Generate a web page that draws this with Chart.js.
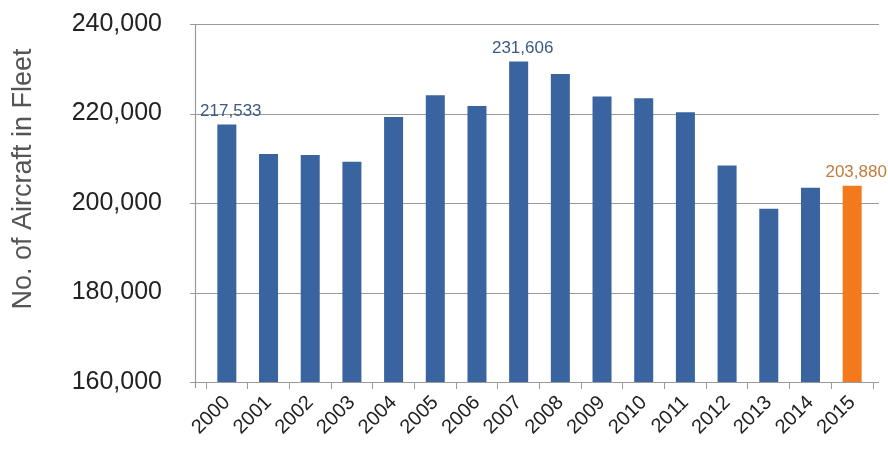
<!DOCTYPE html>
<html>
<head>
<meta charset="utf-8">
<script src="https://cdn.jsdelivr.net/npm/chart.js@4"></script>
<style>
  html, body { margin: 0; padding: 0; background: #ffffff; }
  #wrap { width: 888px; height: 458px; position: relative; }
</style>
</head>
<body>
<div id="wrap"><canvas id="c" width="888" height="458"></canvas></div>
<script>
// ---- data ----
const years = ["2000","2001","2002","2003","2004","2005","2006","2007","2008","2009","2010","2011","2012","2013","2014","2015"];
const fleet = [217533, 210950, 210700, 209200, 219200, 224100, 221700, 231606, 228800, 223800, 223400, 220300, 208400, 198700, 203400, 203880];
const highlightIndex = 15;               // year shown in orange
const labelledIndices = [0, 7, 15];      // bars that carry a value label
const yTicks = [160000, 180000, 200000, 220000, 240000];
const yTitle = "No. of Aircraft in Fleet";

const blue = "#3a64a0";
const orange = "#f27a1c";
const FONT = "'Liberation Sans', Arial, sans-serif";

const barColors = fleet.map((v, i) => i === highlightIndex ? orange : blue);

const valueLabels = {
  id: "valueLabels",
  afterDatasetsDraw(chart) {
    const ctx = chart.ctx;
    const meta = chart.getDatasetMeta(0);
    ctx.save();
    ctx.font = "17px " + FONT;
    ctx.textAlign = "center";
    ctx.textBaseline = "bottom";
    labelledIndices.forEach(i => {
      const el = meta.data[i];
      ctx.fillStyle = i === highlightIndex ? "#c27b3c" : "#3b5a84";
      const txt = fleet[i].toLocaleString("en-US");
      const dx = i === highlightIndex ? 4 : 4;
      ctx.fillText(txt, el.x + dx, el.y - 5);
    });
    ctx.restore();
  }
};

const frame = {
  id: "frame",
  beforeDatasetsDraw(chart) {
    const ctx = chart.ctx;
    const y = chart.scales.y;
    const a = chart.chartArea;
    ctx.save();
    ctx.strokeStyle = "#9a9a9a";
    ctx.lineWidth = 1.2;
    yTicks.forEach(v => {
      const py = Math.round(y.getPixelForValue(v)) + 0.5;
      ctx.beginPath();
      ctx.moveTo(a.left - 16, py);
      ctx.lineTo(a.right + 6, py);
      ctx.stroke();
    });
    ctx.beginPath();
    ctx.moveTo(a.left - 10.5, y.getPixelForValue(240000));
    ctx.lineTo(a.left - 10.5, y.getPixelForValue(160000) + 6);
    ctx.stroke();
    // y axis title
    ctx.fillStyle = "#555";
    ctx.font = "27px " + FONT;
    ctx.textAlign = "center";
    ctx.textBaseline = "middle";
    ctx.translate(24, (a.top + a.bottom) / 2 - 24);
    ctx.rotate(-Math.PI / 2);
    ctx.fillText(yTitle, 0, 0);
    ctx.restore();
  }
};

new Chart(document.getElementById("c"), {
  type: "bar",
  data: {
    labels: years,
    datasets: [{
      data: fleet,
      backgroundColor: barColors,
      borderWidth: 0,
      barPercentage: 0.95,
      categoryPercentage: 0.48
    }]
  },
  options: {
    responsive: false,
    animation: false,
    layout: { padding: { top: 24, right: 15, left: 0, bottom: 0 } },
    plugins: { legend: { display: false }, tooltip: { enabled: false } },
    scales: {
      x: {
        grid: { display: true, drawOnChartArea: false, drawTicks: true, tickLength: 7, color: "#9a9a9a", offset: true },
        border: { display: false },
        afterFit(scale) { scale.height = 76; scale.paddingLeft = 0; scale.paddingRight = 0; },
        ticks: {
          color: "#222",
          font: { size: 20, family: FONT },
          minRotation: 45, maxRotation: 45,
          padding: 2
        }
      },
      y: {
        min: 160000, max: 240000,
        afterBuildTicks(scale) { scale.ticks = yTicks.map(v => ({ value: v })); },
        afterFit(scale) { scale.width = 206; scale.paddingTop = 0; scale.paddingBottom = 0; },
        grid: { display: false },
        border: { display: false },
        ticks: {
          color: "#222",
          padding: 36,
          font: { size: 25, family: FONT },
          callback: v => v.toLocaleString("en-US")
        }
      }
    }
  },
  plugins: [frame, valueLabels]
});
</script>
</body>
</html>
